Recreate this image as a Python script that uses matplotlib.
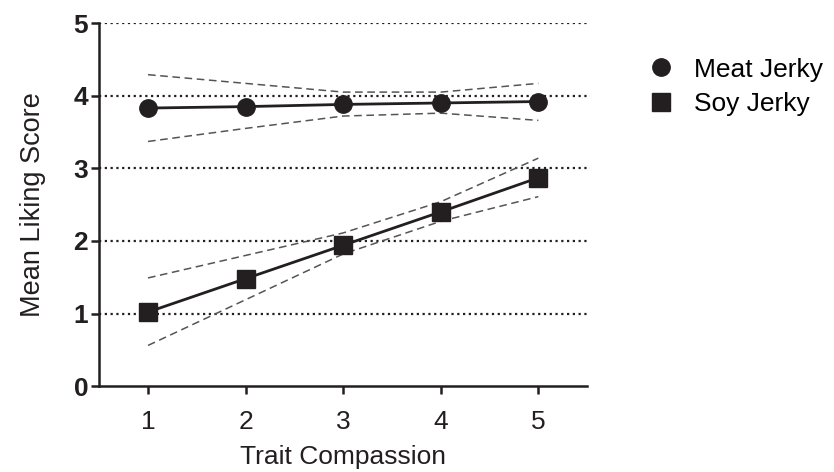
import matplotlib.pyplot as plt

plt.rcParams['font.family'] = ['Liberation Sans', 'DejaVu Sans']

compassion = [1, 2, 3, 4, 5]
meat_mean = [3.83, 3.85, 3.88, 3.90, 3.92]
meat_upper = [4.29, 4.17, 4.05, 4.05, 4.17]
meat_lower = [3.37, 3.55, 3.72, 3.76, 3.66]
soy_mean = [1.02, 1.48, 1.94, 2.40, 2.87]
soy_upper = [1.49, 1.80, 2.11, 2.54, 3.14]
soy_lower = [0.56, 1.19, 1.82, 2.27, 2.61]
yticks = [0, 1, 2, 3, 4, 5]

ink = '#231f20'

fig = plt.figure(figsize=(8.34, 4.72), dpi=100)
ax = fig.add_axes([0.119, 0.182, 0.585, 0.769])

for y in yticks[1:]:
    ax.axhline(y, color=ink, lw=1.6, ls=(0, (1, 1.6)), zorder=1)

# confidence bands
for band in [meat_upper, meat_lower, soy_upper, soy_lower]:
    ax.plot(compassion, band, color='#555555', lw=1.1, ls=(0, (5, 3)), zorder=2)

ax.plot(compassion, meat_mean, color=ink, lw=2, marker='o', ms=12.5,
        label='Meat Jerky', zorder=3)
ax.plot(compassion, soy_mean, color=ink, lw=2, marker='s', ms=12.5,
        label='Soy Jerky', zorder=3)

ax.set_xlim(0.5, 5.5)
ax.set_ylim(0, 5)
ax.set_xticks(compassion)
ax.set_yticks(yticks)
ax.spines['top'].set_visible(False)
ax.spines['right'].set_visible(False)
for s in ['left', 'bottom']:
    ax.spines[s].set_linewidth(1.8)
    ax.spines[s].set_color(ink)
ax.tick_params(width=1.8, length=6, color=ink, labelcolor=ink)
ax.tick_params(axis='y', labelsize=19, pad=2)
ax.tick_params(axis='x', labelsize=19, pad=11)
for lab in ax.get_yticklabels():
    lab.set_fontweight('bold')

ax.set_xlabel('Trait Compassion', fontsize=19, color=ink, labelpad=8)
ax.set_ylabel('Mean Liking Score', fontsize=19.5, color=ink, labelpad=20)

handles, labels = ax.get_legend_handles_labels()
leg = fig.legend(handles, labels, loc='upper left', bbox_to_anchor=(0.779, 0.878),
                 frameon=False, fontsize=19, handlelength=0.84, handletextpad=0.85,
                 labelspacing=0.4, borderaxespad=0, borderpad=0)
for h in leg.legend_handles:
    h.set_linestyle('none')

fig.savefig('out.png', dpi=100)
